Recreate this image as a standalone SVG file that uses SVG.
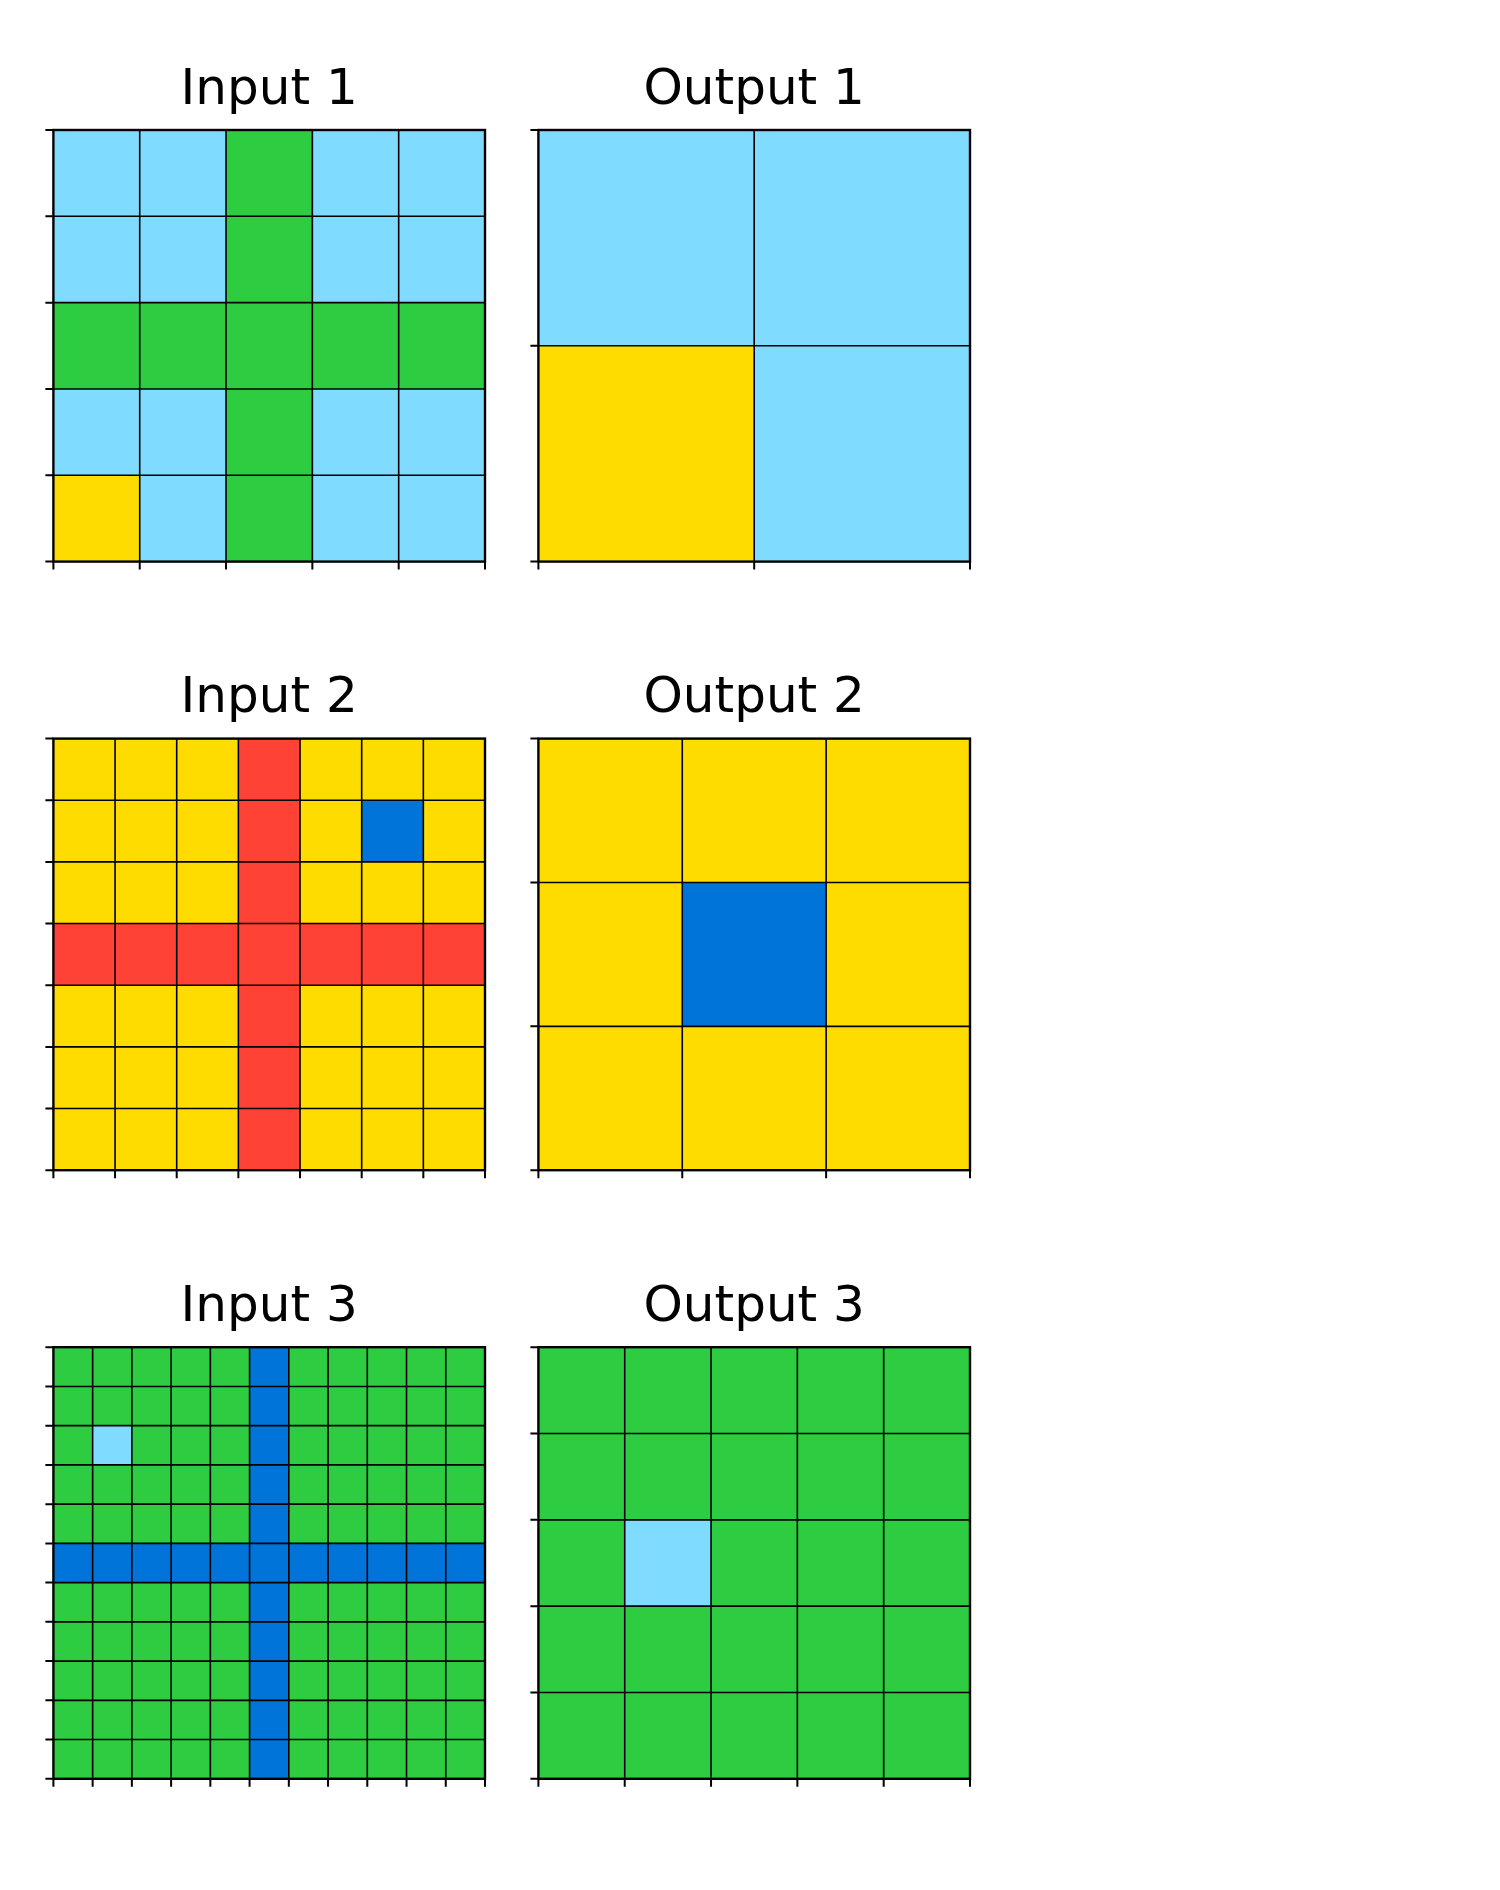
<svg xmlns="http://www.w3.org/2000/svg" width="1500" height="1890" viewBox="0 0 1500 1890">
<style>
.title{font-family:"DejaVu Sans",sans-serif;font-size:50px;text-anchor:middle;fill:#000}
.grid{stroke:#000;stroke-width:1.6;fill:none}
.frame{stroke:#000;stroke-width:2.4;fill:none}
.tick{stroke:#000;stroke-width:2;fill:none}
.S{fill:#7FDBFF}.G{fill:#2ECC40}.Y{fill:#FFDC00}.R{fill:#FF4136}.B{fill:#0074D9}
</style>
<rect width="1500" height="1890" fill="#fff"/>

<g id="input1">
<text class="title" x="269.2" y="103.5">Input 1</text>
<g transform="translate(53.4,130)">
<rect class="S" width="431.6" height="431.6"/>
<rect class="G" x="172.64" width="86.32" height="431.6"/>
<rect class="G" y="172.64" width="431.6" height="86.32"/>
<rect class="Y" y="345.28" width="86.32" height="86.32"/>
<path class="grid" d="M86.32 0V431.6M172.64 0V431.6M258.96 0V431.6M345.28 0V431.6M0 86.32H431.6M0 172.64H431.6M0 258.96H431.6M0 345.28H431.6"/>
<rect class="frame" width="431.6" height="431.6"/>
<path class="tick" d="M-8 0H0M-8 86.32H0M-8 172.64H0M-8 258.96H0M-8 345.28H0M-8 431.6H0M0 431.6V439.6M86.32 431.6V439.6M172.64 431.6V439.6M258.96 431.6V439.6M345.28 431.6V439.6M431.6 431.6V439.6"/>
</g>
</g>

<g id="output1">
<text class="title" x="754.2" y="103.5">Output 1</text>
<g transform="translate(538.4,130)">
<rect class="S" width="431.6" height="431.6"/>
<rect class="Y" y="215.8" width="215.8" height="215.8"/>
<path class="grid" d="M215.8 0V431.6M0 215.8H431.6"/>
<rect class="frame" width="431.6" height="431.6"/>
<path class="tick" d="M-8 0H0M-8 215.8H0M-8 431.6H0M0 431.6V439.6M215.8 431.6V439.6M431.6 431.6V439.6"/>
</g>
</g>

<g id="input2">
<text class="title" x="269.2" y="712.1">Input 2</text>
<g transform="translate(53.4,738.6)">
<rect class="Y" width="431.6" height="431.6"/>
<rect class="R" x="184.97" width="61.66" height="431.6"/>
<rect class="R" y="184.97" width="431.6" height="61.66"/>
<rect class="B" x="308.29" y="61.66" width="61.66" height="61.66"/>
<path class="grid" d="M61.66 0V431.6M123.31 0V431.6M184.97 0V431.6M246.63 0V431.6M308.29 0V431.6M369.94 0V431.6M0 61.66H431.6M0 123.31H431.6M0 184.97H431.6M0 246.63H431.6M0 308.29H431.6M0 369.94H431.6"/>
<rect class="frame" width="431.6" height="431.6"/>
<path class="tick" d="M-8 0H0M-8 61.66H0M-8 123.31H0M-8 184.97H0M-8 246.63H0M-8 308.29H0M-8 369.94H0M-8 431.6H0M0 431.6V439.6M61.66 431.6V439.6M123.31 431.6V439.6M184.97 431.6V439.6M246.63 431.6V439.6M308.29 431.6V439.6M369.94 431.6V439.6M431.6 431.6V439.6"/>
</g>
</g>

<g id="output2">
<text class="title" x="754.2" y="712.1">Output 2</text>
<g transform="translate(538.4,738.6)">
<rect class="Y" width="431.6" height="431.6"/>
<rect class="B" x="143.87" y="143.87" width="143.87" height="143.87"/>
<path class="grid" d="M143.87 0V431.6M287.73 0V431.6M0 143.87H431.6M0 287.73H431.6"/>
<rect class="frame" width="431.6" height="431.6"/>
<path class="tick" d="M-8 0H0M-8 143.87H0M-8 287.73H0M-8 431.6H0M0 431.6V439.6M143.87 431.6V439.6M287.73 431.6V439.6M431.6 431.6V439.6"/>
</g>
</g>

<g id="input3">
<text class="title" x="269.2" y="1320.7">Input 3</text>
<g transform="translate(53.4,1347.2)">
<rect class="G" width="431.6" height="431.6"/>
<rect class="B" x="196.18" width="39.24" height="431.6"/>
<rect class="B" y="196.18" width="431.6" height="39.24"/>
<rect class="S" x="39.24" y="78.47" width="39.24" height="39.24"/>
<path class="grid" d="M39.24 0V431.6M78.47 0V431.6M117.71 0V431.6M156.95 0V431.6M196.18 0V431.6M235.42 0V431.6M274.65 0V431.6M313.89 0V431.6M353.13 0V431.6M392.36 0V431.6M0 39.24H431.6M0 78.47H431.6M0 117.71H431.6M0 156.95H431.6M0 196.18H431.6M0 235.42H431.6M0 274.65H431.6M0 313.89H431.6M0 353.13H431.6M0 392.36H431.6"/>
<rect class="frame" width="431.6" height="431.6"/>
<path class="tick" d="M-8 0H0M-8 39.24H0M-8 78.47H0M-8 117.71H0M-8 156.95H0M-8 196.18H0M-8 235.42H0M-8 274.65H0M-8 313.89H0M-8 353.13H0M-8 392.36H0M-8 431.6H0M0 431.6V439.6M39.24 431.6V439.6M78.47 431.6V439.6M117.71 431.6V439.6M156.95 431.6V439.6M196.18 431.6V439.6M235.42 431.6V439.6M274.65 431.6V439.6M313.89 431.6V439.6M353.13 431.6V439.6M392.36 431.6V439.6M431.6 431.6V439.6"/>
</g>
</g>

<g id="output3">
<text class="title" x="754.2" y="1320.7">Output 3</text>
<g transform="translate(538.4,1347.2)">
<rect class="G" width="431.6" height="431.6"/>
<rect class="S" x="86.32" y="172.64" width="86.32" height="86.32"/>
<path class="grid" d="M86.32 0V431.6M172.64 0V431.6M258.96 0V431.6M345.28 0V431.6M0 86.32H431.6M0 172.64H431.6M0 258.96H431.6M0 345.28H431.6"/>
<rect class="frame" width="431.6" height="431.6"/>
<path class="tick" d="M-8 0H0M-8 86.32H0M-8 172.64H0M-8 258.96H0M-8 345.28H0M-8 431.6H0M0 431.6V439.6M86.32 431.6V439.6M172.64 431.6V439.6M258.96 431.6V439.6M345.28 431.6V439.6M431.6 431.6V439.6"/>
</g>
</g>

<g id="connectors"></g>
</svg>
